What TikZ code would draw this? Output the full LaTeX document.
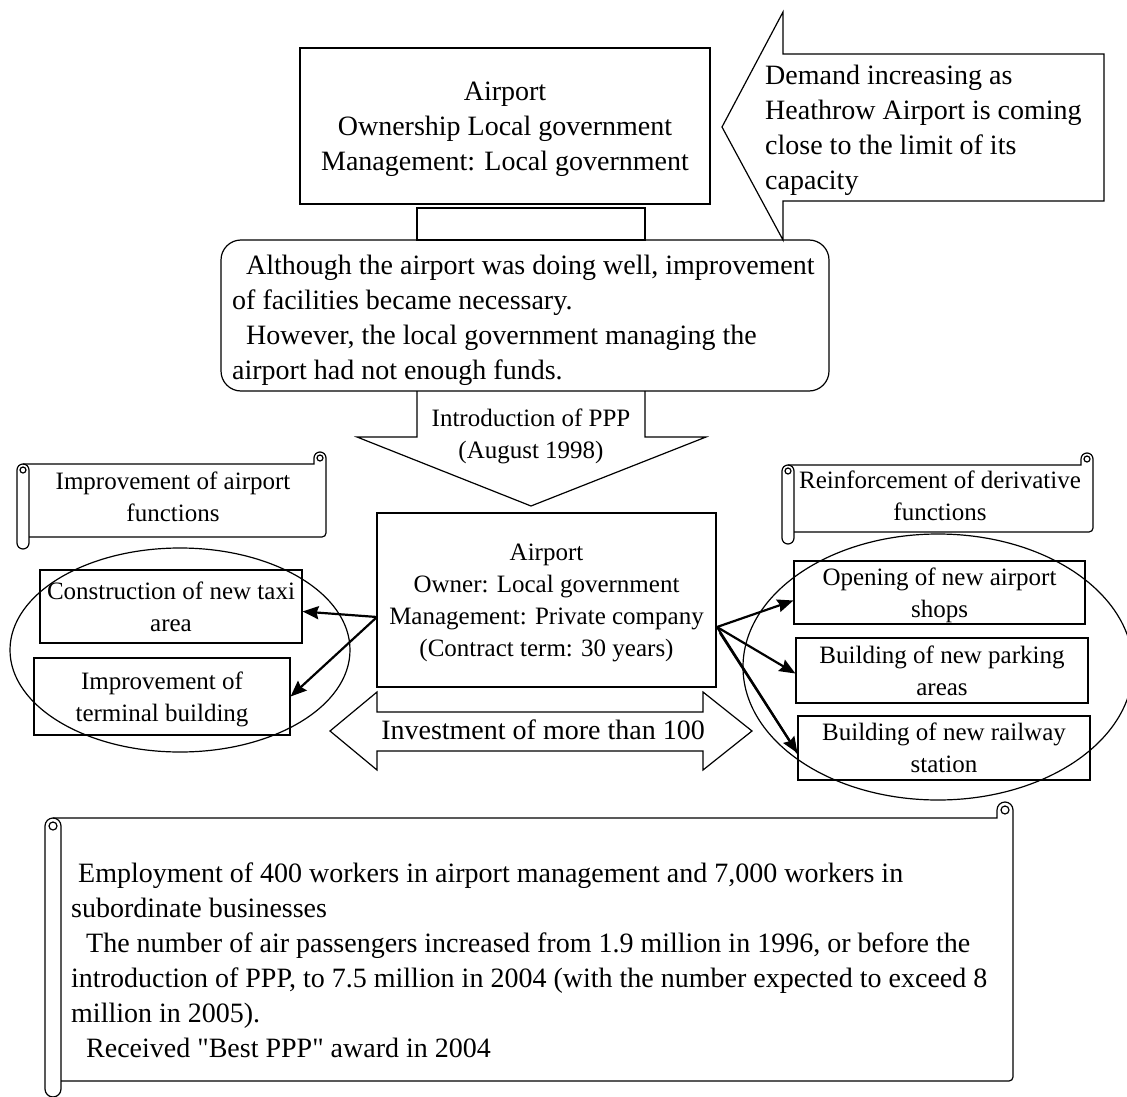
\documentclass[tikz,border=0pt]{standalone}
\usepackage{fontspec}
\setmainfont{Liberation Serif}
\usetikzlibrary{arrows.meta}

\tikzset{
  frame/.style={draw, line width=1.2pt, inner sep=0pt, text depth=0pt},
  big/.style={font=\fontsize{28}{35}\selectfont, inner sep=0pt, text depth=0pt},
  small/.style={font=\fontsize{25}{32}\selectfont, inner sep=0pt, text depth=0pt},
  outline/.style={line width=1.2pt, line join=miter},
  link/.style={line width=2.2pt, -{Stealth[length=16pt, width=13pt, inset=2pt]}},
}
\newcommand{\scrollpath}[5]{%
  \draw[outline] ({#1+#5/2},{#2+#5}) -- ({#3-#5},{#2+#5}) -- ({#3-#5},{#2+#5/2})
    arc[start angle=180, end angle=360, radius=#5/2] -- ({#3},{#4-#5-4})
    arc[start angle=0, end angle=90, radius=4] -- ({#1+#5},{#4-#5});
  \draw[outline] ({#3-#5/2},{#2+#5/2}) circle[radius=#5/4];
  \draw[outline] ({#1+#5},{#4-#5/2}) -- ({#1+#5},{#2+1.5*#5})
    arc[start angle=0, end angle=-180, radius=#5/2] -- ({#1},{#4-#5/2})
    arc[start angle=180, end angle=0, radius=#5/2];
  \draw[outline] ({#1+#5/2},{#2+1.5*#5}) circle[radius=#5/4];
}

\begin{document}
\begin{tikzpicture}[x=1pt, y=-1pt]
  \useasboundingbox (0,0) rectangle (1127,1097);
  \clip (0,0) rectangle (1127,1097);

  \node[frame, big, minimum width=410pt, minimum height=156pt, align=center] (old) at (505,126)
    {Airport\\Ownership Local government\\Management: Local government};
  \draw[outline] (722,127) -- (783,12) -- (783,54) -- (1104,54) -- (1104,201) -- (783,201) -- (783,240) -- cycle;
  \node[big, align=left, anchor=west] (demand) at (765,127)
    {Demand increasing as\\Heathrow Airport is coming\\close to the limit of its\\capacity};
  \draw[outline] (417,208) rectangle (645,240);
  \node[frame, rounded corners=20pt, minimum width=608pt, minimum height=151pt] (reason) at (525,315.5) {};
  \node[big, align=left, anchor=west] (reasontext) at (232,317)
    {\hspace*{14pt}Although the airport was doing well, improvement\\of facilities became necessary.\\
     \hspace*{14pt}However, the local government managing the\\airport had not enough funds.};

  \draw[outline] (417,391) -- (417,437) -- (357,437) -- (531,506) -- (706,437) -- (645,437) -- (645,391);
  \node[small, align=center] (ppp) at (531,434) {Introduction of PPP\\(August 1998)};

  \scrollpath{17}{452}{326}{549}{12}
  \node[small, align=center] (airfun) at (173,496.5) {Improvement of airport\\functions};
  \scrollpath{782}{453}{1093}{544}{12}
  \node[small, align=center] (derfun) at (940,495.5) {Reinforcement of derivative\\functions};

  \node[frame, small, minimum width=339pt, minimum height=174pt, align=center] (new) at (546.5,600)
    {Airport\\Owner: Local government\\Management: Private company\\(Contract term: 30 years)};
  \draw[outline] (377,712) -- (377,692) -- (330,731) -- (377,770) -- (377,751) -- (703,751)
    -- (703,770) -- (752,731) -- (703,692) -- (703,712) -- cycle;
  \node[big] (invest) at (543,730) {Investment of more than 100};

  \node[frame, small, minimum width=262pt, minimum height=73pt, align=center] (taxi) at (171,606.5)
    {Construction of new taxi\\area};
  \node[frame, small, minimum width=256pt, minimum height=77pt, align=center] (terminal) at (162,696.5)
    {Improvement of\\terminal building};
  \node[frame, small, minimum width=291pt, minimum height=63pt, align=center] (shops) at (939.5,592.5)
    {Opening of new airport\\shops};
  \node[frame, small, minimum width=292pt, minimum height=65pt, align=center] (parking) at (942,670.5)
    {Building of new parking\\areas};
  \node[frame, small, minimum width=292pt, minimum height=64pt, align=center] (railway) at (944,748)
    {Building of new railway\\station};
  \draw[outline] (180,650) ellipse[x radius=170, y radius=102];
  \draw[outline] (938,667) ellipse[x radius=195, y radius=133];

  \coordinate (hubL) at (377,617);
  \coordinate (hubR) at (717,627);
  \coordinate (hubRb) at (720,633);
  \draw[link] (hubL) -- ([yshift=-5pt]taxi.east);
  \draw[link] (hubL) -- (terminal.east);
  \draw[link] (hubR) -- ([yshift=-8pt]shops.west);
  \draw[link] (hubR) -- ([yshift=-3pt]parking.west);
  \draw[link] (hubR) -- ([yshift=-5pt]railway.west);
  \draw[line width=2.2pt] (hubRb) -- ([yshift=-5pt]railway.west);

  \scrollpath{45}{802}{1013}{1097}{16}
  \node[big, align=left, anchor=west] (result) at (71,960)
    {\hspace*{7pt}Employment of 400 workers in airport management and 7,000 workers in\\
     subordinate businesses\\
     \hspace*{15pt}The number of air passengers increased from 1.9 million in 1996, or before the\\
     introduction of PPP, to 7.5 million in 2004 (with the number expected to exceed 8\\
     million in 2005).\\
     \hspace*{15pt}Received \textquotedbl Best PPP\textquotedbl{} award in 2004};
\end{tikzpicture}
\end{document}
